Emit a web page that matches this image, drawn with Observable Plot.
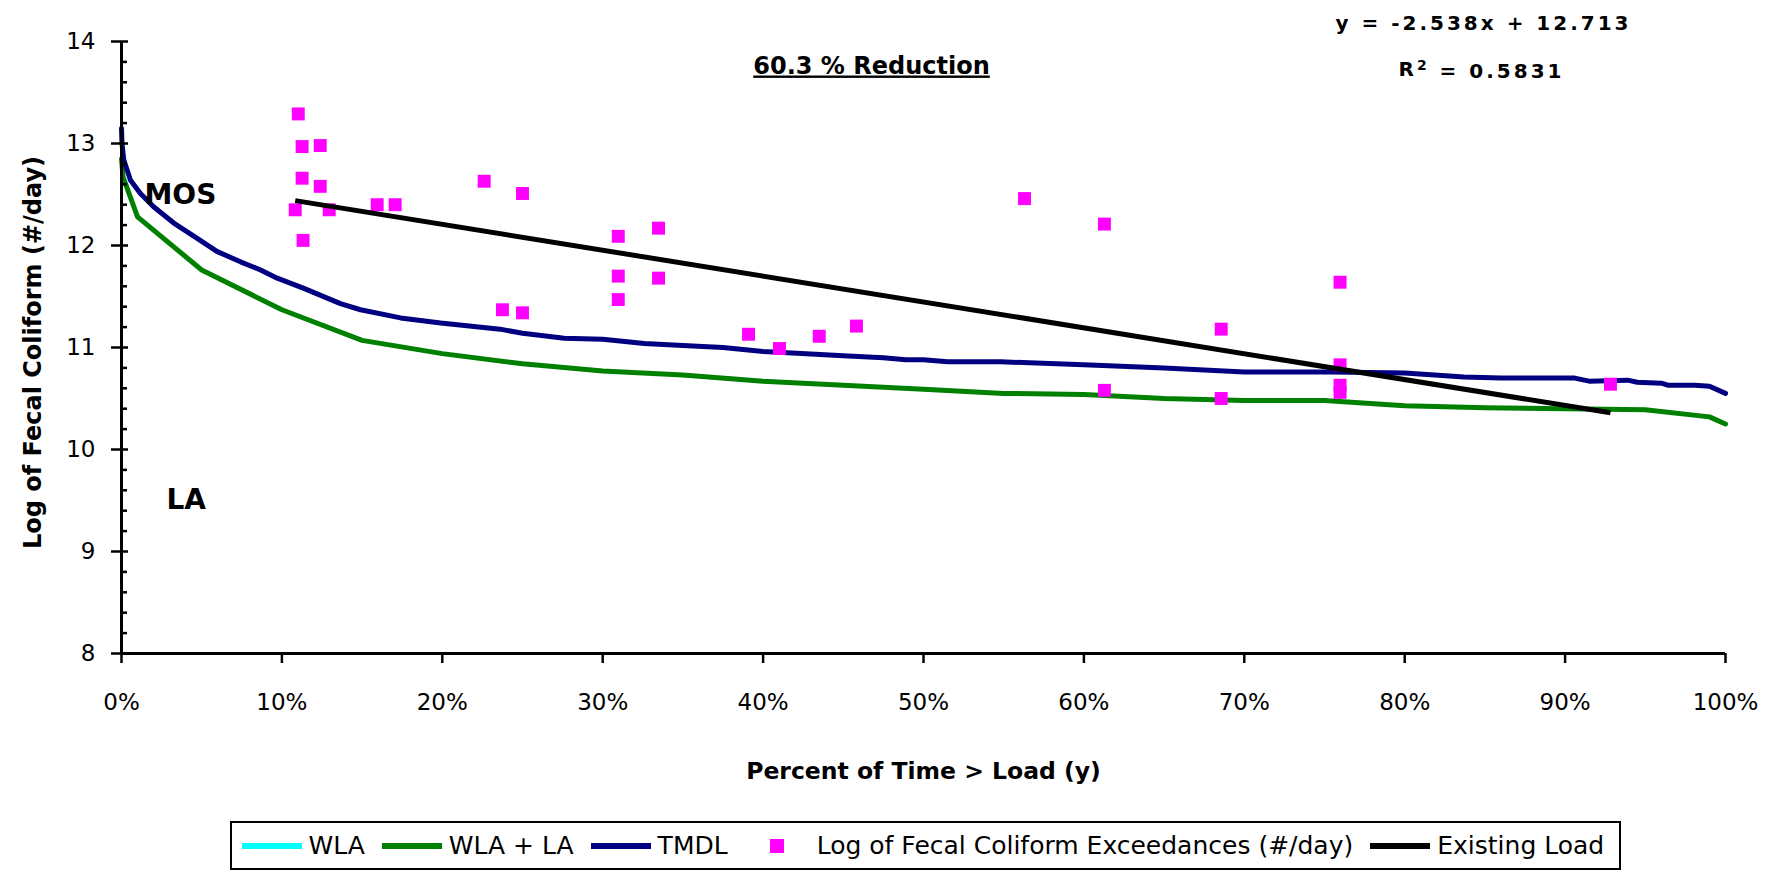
<!DOCTYPE html>
<html>
<head>
<meta charset="utf-8">
<script src="https://cdn.jsdelivr.net/npm/d3@7"></script>
<script src="https://cdn.jsdelivr.net/npm/@observablehq/plot@0.6"></script>
<style>
  html, body { margin: 0; padding: 0; background: #fff; }
  body { width: 1773px; height: 879px; position: relative; overflow: hidden;
         font-family: "DejaVu Sans", Verdana, sans-serif; color: #000; }
  #chart svg { display: block; }
  .legend { position: absolute; left: 229.5px; top: 821px; width: 1377px; height: 45px;
            border: 2.5px solid #000; display: flex; align-items: center;
            font-size: 25px; padding-left: 10px; box-sizing: content-box; }
  .legend .item { display: flex; align-items: center; margin-right: 17px; white-space: nowrap; }
  .legend .line { width: 60px; height: 6px; margin-right: 7px; }
  .legend .square { width: 14px; height: 14px; margin-left: 25.7px; margin-right: 32.4px; }
</style>
</head>
<body>
<div id="chart"></div>
<div class="legend" id="legend"></div>
<script>
"use strict";

// flow-duration style curves, x = fraction of time load is exceeded
const tmdlX = [0, 0.0003, 0.0014, 0.0056, 0.0118, 0.020, 0.0326, 0.0472, 0.0597, 0.0742,
  0.0867, 0.0971, 0.1137, 0.1365, 0.149, 0.174, 0.199, 0.236, 0.25, 0.276,
  0.30, 0.326, 0.35, 0.375, 0.40, 0.424, 0.45, 0.475, 0.489, 0.50,
  0.515, 0.548, 0.60, 0.65, 0.70, 0.754, 0.80, 0.837, 0.86, 0.906,
  0.915, 0.939, 0.945, 0.96, 0.964, 0.981, 0.99, 1.0];
const tmdlY = [13.15, 13.0, 12.84, 12.64, 12.51, 12.38, 12.22, 12.07, 11.94, 11.84,
  11.76, 11.68, 11.58, 11.43, 11.37, 11.29, 11.24, 11.18, 11.14, 11.09,
  11.08, 11.04, 11.02, 11.0, 10.96, 10.94, 10.92, 10.90, 10.88, 10.88,
  10.86, 10.86, 10.83, 10.80, 10.76, 10.76, 10.75, 10.71, 10.70, 10.70,
  10.67, 10.68, 10.66, 10.65, 10.63, 10.63, 10.62, 10.55];

const wlaLaX = [0, 0.001, 0.01, 0.05, 0.10, 0.15, 0.20, 0.25, 0.30, 0.35, 0.40, 0.45,
  0.50, 0.55, 0.60, 0.65, 0.70, 0.75, 0.80, 0.85, 0.90, 0.95, 0.99, 1.0];
const wlaLaY = [12.85, 12.67, 12.28, 11.76, 11.37, 11.07, 10.94, 10.84, 10.77, 10.73, 10.67, 10.63,
  10.59, 10.55, 10.54, 10.50, 10.48, 10.48, 10.43, 10.41, 10.40, 10.39, 10.32, 10.25];

// observed exceedances
const exceedX = [0.1102, 0.1126, 0.1239, 0.1126, 0.1239, 0.1083, 0.1295, 0.1132, 0.1594, 0.1706,
  0.2261, 0.2375, 0.2500, 0.2500, 0.3097, 0.3348, 0.3097, 0.3348, 0.3097, 0.3909,
  0.4102, 0.4350, 0.4582, 0.5630, 0.6128, 0.6128, 0.6856, 0.6856, 0.7597, 0.7597,
  0.7597, 0.7597, 0.9283];
const exceedY = [13.29, 12.97, 12.98, 12.66, 12.58, 12.35, 12.35, 12.05, 12.40, 12.40,
  12.63, 11.37, 12.51, 11.34, 12.09, 12.17, 11.70, 11.68, 11.47, 11.13,
  10.99, 11.11, 11.21, 12.46, 12.21, 10.58, 11.18, 10.50, 11.64, 10.83,
  10.63, 10.56, 10.64];

// existing load = linear trend over the exceedances
const existingX = [0.1083, 0.9283];
const existingY = [12.44, 10.36];

const xTicks = [0, 0.1, 0.2, 0.3, 0.4, 0.5, 0.6, 0.7, 0.8, 0.9, 1];
const yMajor = [8, 9, 10, 11, 12, 13, 14];
const yMinor = d3.range(8, 14.001, 0.2).filter((v) => Math.abs(v - Math.round(v)) > 0.01);

const EQUATION = "y = -2.538x + 12.713";
const RSQ = "R2 = 0.5831";
const REDUCTION = "60.3 % Reduction";
const X_TITLE = "Percent of Time > Load (y)";
const Y_TITLE = "Log of Fecal Coliform (#/day)";

const COLOR = { wla: "#00ffff", wlaLa: "#008000", tmdl: "#000080", exceed: "#ff00ff", existing: "#000000" };

const zip = (xs, ys) => xs.map((x, i) => ({ x, y: ys[i] }));
const tmdl = zip(tmdlX, tmdlY);
const wlaLa = zip(wlaLaX, wlaLaY);
const exceed = zip(exceedX, exceedY);
const existing = zip(existingX, existingY);

const bold = { fontWeight: "bold", fill: "#000" };

const chart = Plot.plot({
  width: 1773, height: 815,
  marginTop: 41, marginLeft: 121, marginRight: 48, marginBottom: 162,
  style: { fontFamily: "DejaVu Sans, Verdana, sans-serif", color: "#000", background: "#fff", overflow: "visible" },
  x: { domain: [0, 1] },
  y: { domain: [8, 14] },
  marks: [
    Plot.line(wlaLa, { x: "x", y: "y", stroke: COLOR.wlaLa, strokeWidth: 5 }),
    Plot.line(tmdl, { x: "x", y: "y", stroke: COLOR.tmdl, strokeWidth: 5 }),
    Plot.dot(exceed, { x: "x", y: "y", symbol: "square", r: 7.3, fill: COLOR.exceed, stroke: null }),
    Plot.line(existing, { x: "x", y: "y", stroke: COLOR.existing, strokeWidth: 5, strokeLinecap: "butt" }),
    Plot.ruleX([0], { strokeWidth: 3 }),
    Plot.ruleY([8], { strokeWidth: 3 }),
    Plot.axisX({ ticks: xTicks, tickFormat: d3.format(".0%"), tickSize: 10, tickPadding: 30,
      fontSize: 23, strokeWidth: 2.5, label: null }),
    Plot.axisY({ ticks: yMajor, tickFormat: d3.format("d"), tickSize: 17, dx: 7, tickPadding: 16,
      fontSize: 23, strokeWidth: 2.5, label: null }),
    Plot.axisY({ ticks: yMinor, tickSize: -6, fill: "none", strokeWidth: 2.5, label: null }),
    Plot.text([X_TITLE], { frameAnchor: "bottom", dy: 125, lineAnchor: "bottom", fontSize: 23.5, ...bold }),
    Plot.text([Y_TITLE], { frameAnchor: "left", rotate: -90, dx: -88, dy: 5, textAnchor: "middle",
      lineAnchor: "middle", fontSize: 24, ...bold }),
    Plot.text([REDUCTION], { frameAnchor: "top", dx: -52, dy: 32, lineAnchor: "bottom", fontSize: 24, ...bold }),
    Plot.text([EQUATION], { frameAnchor: "top", dx: 560, dy: -12, lineAnchor: "bottom", fontSize: 20, ...bold }),
    Plot.text([RSQ], { frameAnchor: "top", dx: 558, dy: 34, lineAnchor: "bottom", fontSize: 20, ...bold }),
    Plot.text(["MOS"], { frameAnchor: "top-left", dx: 23, dy: 162, lineAnchor: "bottom", textAnchor: "start", fontSize: 28, ...bold }),
    Plot.text(["LA"], { frameAnchor: "top-left", dx: 45, dy: 467, lineAnchor: "bottom", textAnchor: "start", fontSize: 28, ...bold }),
  ],
});
document.getElementById("chart").appendChild(chart);

// excel-style touches plot has no option for
const texts = d3.select(chart).selectAll("text");
texts.filter(function () { return this.textContent === REDUCTION; })
  .style("text-decoration", "underline");
const eqTexts = texts.filter(function () { return this.textContent === EQUATION || this.textContent === RSQ; })
  .style("letter-spacing", "3px");
// superscript the 2 of R2
eqTexts.filter(function () { return this.textContent === RSQ; }).each(function () {
  const t = d3.select(this);
  t.text("R");
  t.append("tspan").attr("dy", "-0.42em").style("font-size", "14px").text("2");
  t.append("tspan").attr("dy", "0.42em").text(" = 0.5831");
});

const legendItems = [
  { label: "WLA", kind: "line", color: COLOR.wla },
  { label: "WLA + LA", kind: "line", color: COLOR.wlaLa },
  { label: "TMDL", kind: "line", color: COLOR.tmdl },
  { label: "Log of Fecal Coliform Exceedances (#/day)", kind: "square", color: COLOR.exceed },
  { label: "Existing Load", kind: "line", color: COLOR.existing },
];
document.getElementById("legend").innerHTML = legendItems.map((d) =>
  `<span class="item"><span class="${d.kind}" style="background:${d.color}"></span>${d.label}</span>`
).join("");
</script>
</body>
</html>
